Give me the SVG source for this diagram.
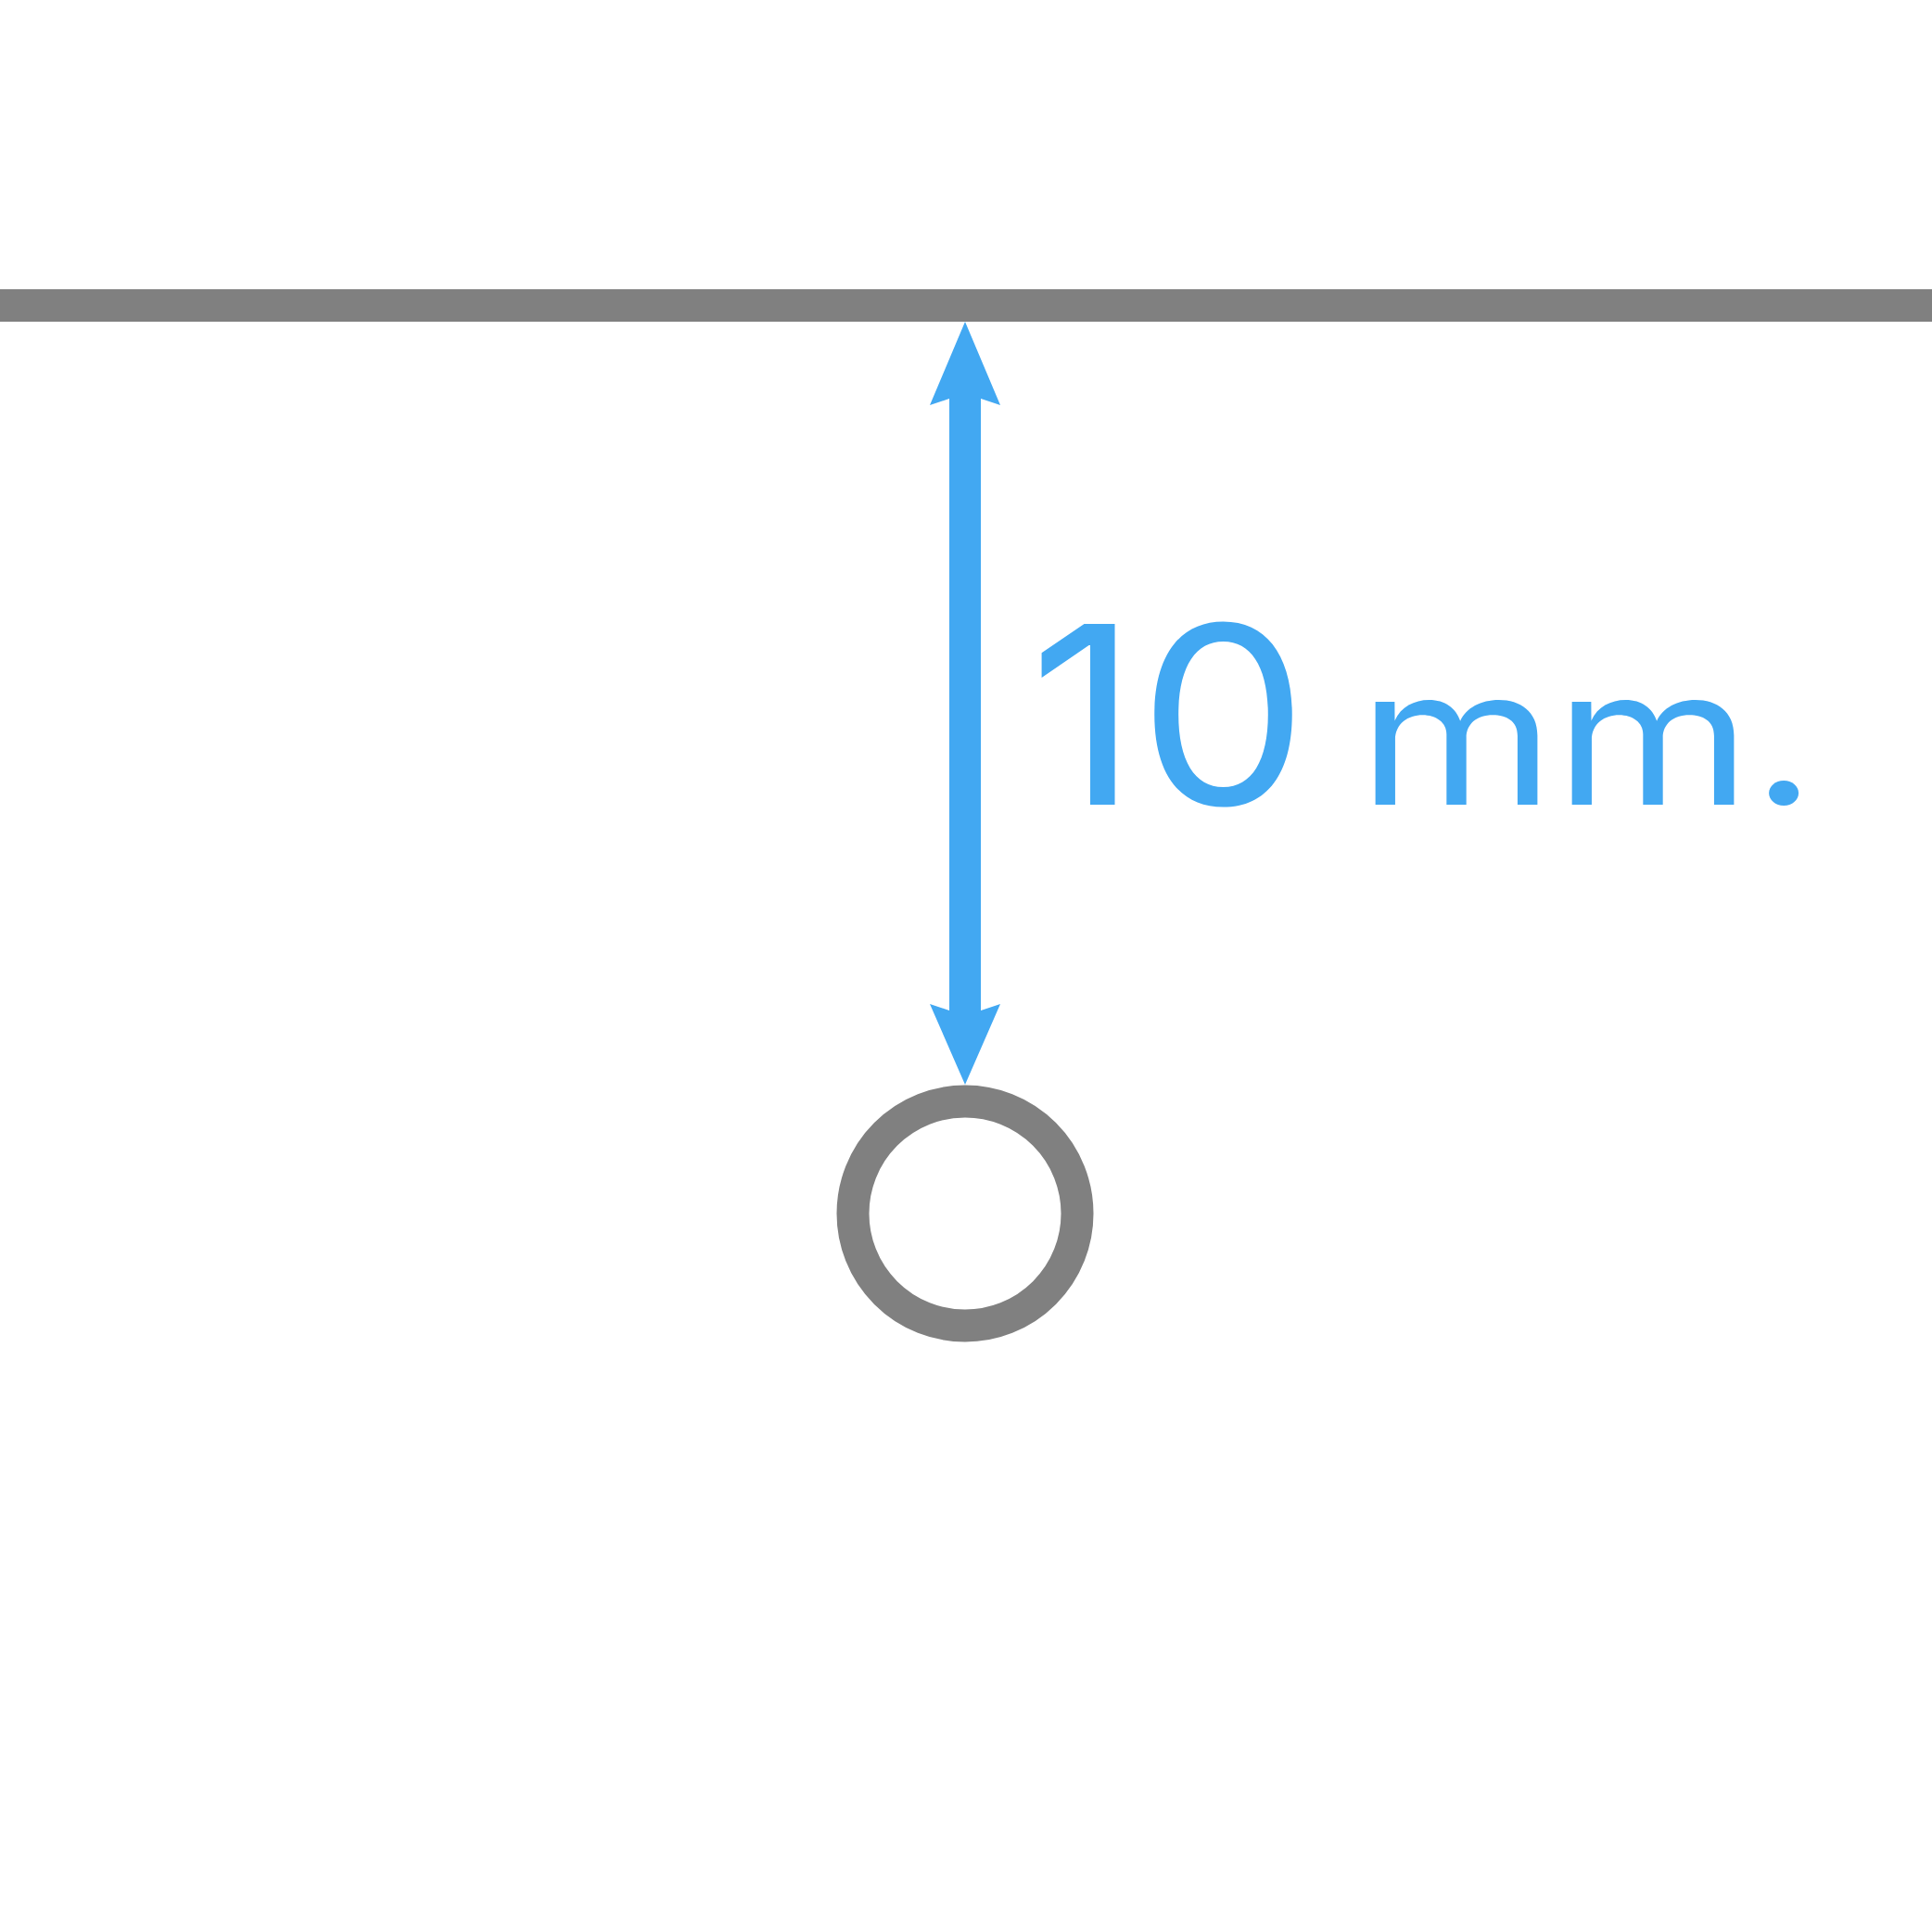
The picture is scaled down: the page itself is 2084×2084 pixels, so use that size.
<svg xmlns="http://www.w3.org/2000/svg" width="2084" height="2084" viewBox="0 0 2084 2084">
<style>
.gray{fill:#808080}
.ring{fill:none;stroke:#808080;stroke-width:35}
.blue{fill:#42A8F2}
.lbl{fill:#42A8F2;font-family:Inter,"Liberation Sans",sans-serif;font-weight:400}
</style>
<rect width="2084" height="2084" fill="#ffffff"/>
<g id="bar"><rect class="gray" x="0" y="312" width="2084" height="35"/></g>
<g id="ring"><circle class="ring" cx="1041" cy="1309" r="121"/></g>
<g id="connectors">
<polygon class="blue" points="1041,347 1079,437 1058,430 1058,1090 1079,1083 1041,1170 1003,1083 1024,1090 1024,430 1003,437"/>
</g>
<g id="label">
<text class="lbl" y="868"><tspan x="1110" font-size="268" textLength="301" lengthAdjust="spacingAndGlyphs">10</tspan><tspan x="1465" font-size="204" textLength="494" lengthAdjust="spacingAndGlyphs">mm.</tspan></text>
</g>
</svg>
